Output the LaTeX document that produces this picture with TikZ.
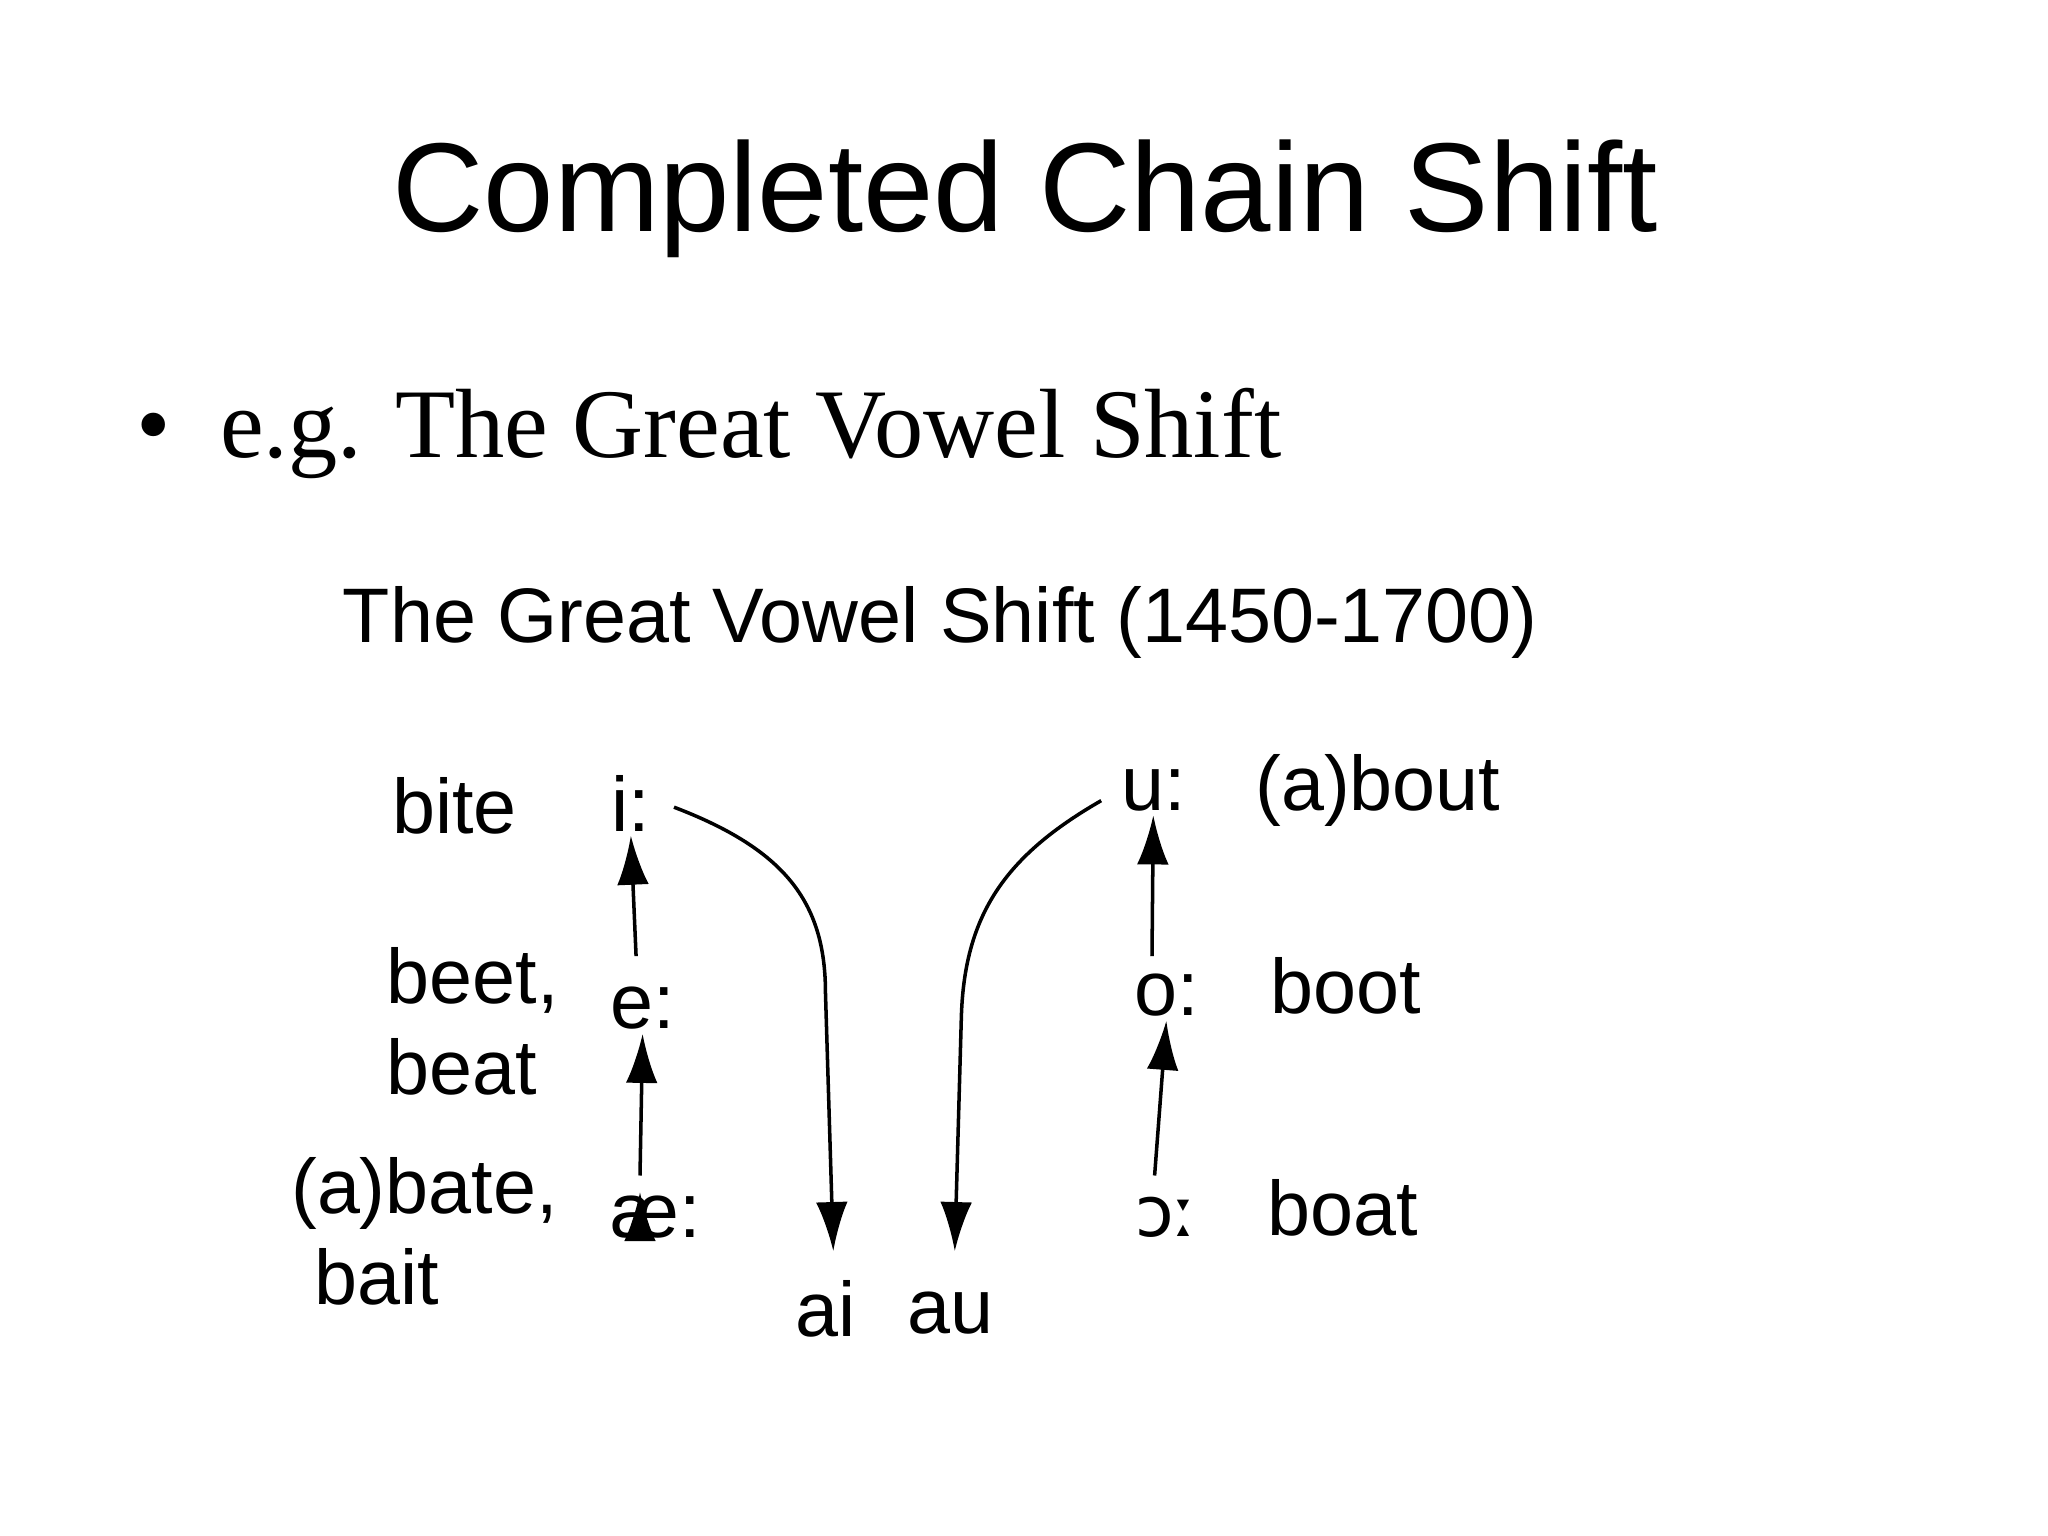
\documentclass[tikz,border=0pt]{standalone}
\usepackage{fontspec}
\setmainfont{Liberation Serif}
\newfontfamily\arialf{Liberation Sans}
\newfontfamily\dv{DejaVu Sans}
\usetikzlibrary{arrows.meta}
\begin{document}
\begin{tikzpicture}[x=0.01306cm,y=-0.01306cm,
  lab/.style={font=\arialf\fontsize{22}{26}\selectfont,inner sep=1pt},
  arr/.style={-{Latex[length=14pt,width=9pt]},line width=1pt}]
\useasboundingbox (0,0) rectangle (1568,1176);
\node[font=\arialf\fontsize{36}{40}\selectfont] (title) at (785,152) {Completed Chain Shift};
\node[font=\fontsize{28}{32}\selectfont,anchor=base west] (bul) at (95,350) {\textbullet\ \ e.g. The Great Vowel Shift};
\node[lab,anchor=base] (head) at (720,492) {The Great Vowel Shift (1450-1700)};
\node[lab] (bite) at (348,617) {bite};
\node[lab] (i) at (483,615) {i:};
\node[lab] (u) at (883,605) {u:};
\node[lab] (about) at (1055,605) {(a)bout};
\node[lab,align=left] (beet) at (362,782) {beet,\\beat};
\node[lab] (e) at (492,772) {e:};
\node[lab] (o) at (893,762) {o:};
\node[lab] (boot) at (1030,755) {boot};
\node[lab,align=left] (abate) at (325,943) {(a)bate,\\\hspace*{0.3em}bait};
\node[lab] (ae) at (502,932) {æ:};
\node[lab,font=\dv\fontsize{20}{24}\selectfont] (oo) at (893,932) {ɔː};
\node[lab] (boat) at (1028,925) {boat};
\node[lab] (ai) at (632,1002) {ai};
\node[lab] (au) at (728,1005) {au};
\draw[arr] (487,732) -- (i.south);
\draw[arr] (ae.north -| e.south) ++(-2,0) coordinate (x1);
\draw[arr] (490,900) -- (e.south);
\draw[arr] (882,732) -- (u.south);
\draw[arr] (884,900) -- (o.south);
\draw[arr] (i.east) ++(15,3) .. controls (600,650) and (632,690) .. (632,760) -- (638,958);
\draw[arr] (u.west) ++(-12,8) .. controls (770,655) and (738,700) .. (736,780) -- (731,958);
\end{tikzpicture}
\end{document}
